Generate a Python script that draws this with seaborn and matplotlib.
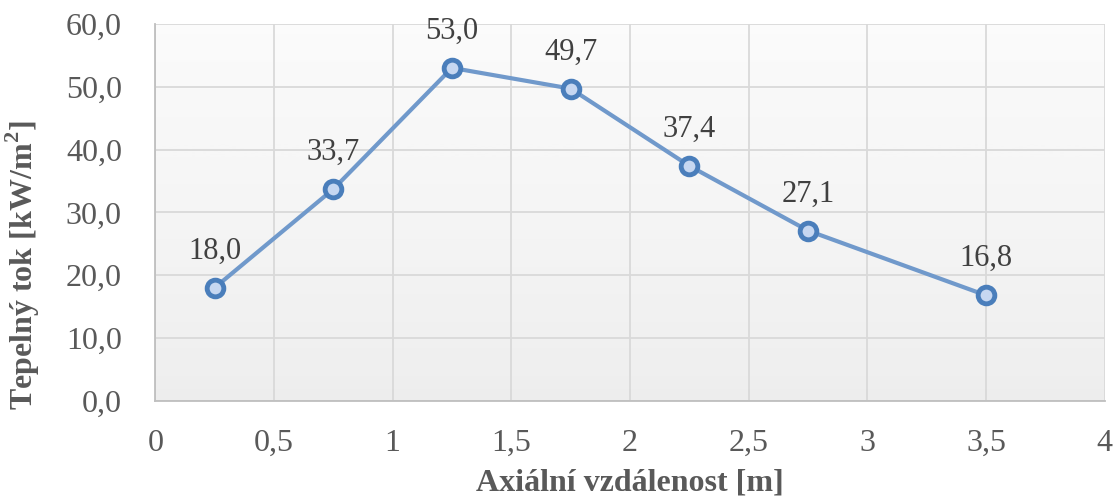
import numpy as np
import pandas as pd
import matplotlib
matplotlib.use("Agg")
import matplotlib.pyplot as plt
import seaborn as sns

# Données
vzdalenost = [0.25, 0.75, 1.25, 1.75, 2.25, 2.75, 3.5]
tok = [18.0, 33.7, 53.0, 49.7, 37.4, 27.1, 16.8]
popisky = ["18,0", "33,7", "53,0", "49,7", "37,4", "27,1", "16,8"]
x_ticks = [0, 0.5, 1, 1.5, 2, 2.5, 3, 3.5, 4]
x_labels = ["0", "0,5", "1", "1,5", "2", "2,5", "3", "3,5", "4"]
y_ticks = [0, 10, 20, 30, 40, 50, 60]
y_labels = ["0,0", "10,0", "20,0", "30,0", "40,0", "50,0", "60,0"]

df = pd.DataFrame({"x": vzdalenost, "y": tok})

sns.set_style("white")
plt.rcParams["font.family"] = ["Liberation Serif", "DejaVu Serif"]

fig = plt.figure(figsize=(11.17, 4.98), dpi=100)
ax = fig.add_axes([0.139, 0.195, 0.850, 0.757])

# Pozadí s přechodem (bílá nahoře, světle šedá dole)
grad = np.linspace(0.0, 1.0, 256).reshape(-1, 1)
ax.imshow(grad, extent=[0, 4, 0, 60], aspect="auto", cmap="Greys",
          vmin=-0.3, vmax=9, origin="upper", zorder=0)

sns.lineplot(data=df, x="x", y="y", ax=ax, color="#7099cb", linewidth=3,
             marker="o", markersize=12, markerfacecolor="#c6d7f1",
             markeredgecolor="#4a7ebb", markeredgewidth=3.5, zorder=3)

for xv, yv, lab in zip(vzdalenost, tok, popisky):
    ax.annotate(lab, (xv, yv), xytext=(0, 16), textcoords="offset points",
                ha="center", va="bottom", fontsize=22, color="#404040")

ax.set_xlim(0, 4)
ax.set_ylim(0, 60)
ax.set_xticks(x_ticks)
ax.set_xticklabels(x_labels)
ax.set_yticks(y_ticks)
ax.set_yticklabels(y_labels)
ax.tick_params(axis="both", labelsize=23, colors="#595959", length=0)
ax.tick_params(axis="x", pad=20)
ax.tick_params(axis="y", pad=24)
ax.grid(True, color="#d9d9d9", linewidth=1.3, zorder=1)
ax.set_axisbelow(True)

for s in ["top", "right"]:
    ax.spines[s].set_visible(False)
for s in ["left", "bottom"]:
    ax.spines[s].set_color("#bfbfbf")
    ax.spines[s].set_linewidth(1.3)

ax.set_xlabel("Axiální vzdálenost [m]", fontsize=23, fontweight="bold",
              color="#595959", labelpad=8)
ax.set_ylabel("Tepelný tok [kW/m$^\\mathregular{2}$]", fontsize=23,
              fontweight="bold", color="#595959")
ax.yaxis.set_label_coords(-0.119, 0.36)

fig.savefig("out.png", dpi=100)
